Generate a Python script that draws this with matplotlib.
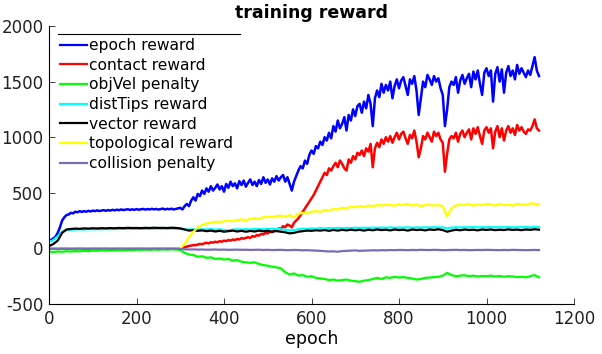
import numpy as np
import matplotlib
matplotlib.use("Agg")
import matplotlib.pyplot as plt
from matplotlib.lines import Line2D

plt.rcParams["axes.unicode_minus"] = False

# ---------------- data ----------------
series_names = ["epoch reward", "contact reward", "objVel penalty", "distTips reward",
                "vector reward", "topological reward", "collision penalty"]

# epoch reward, every 5 epochs from 0 to 1120
epoch_reward = [
    70, 78, 90, 105, 140, 190, 250, 280, 300, 305, 320, 315, 330, 325, 335, 328, 335, 330, 338, 332,
    340, 335, 342, 336, 340, 344, 338, 345, 340, 347, 342, 348, 344, 350, 345, 349, 352, 346, 351, 347,
    353, 348, 352, 355, 349, 354, 350, 356, 351, 355, 349, 354, 358, 350, 356, 352, 357, 350, 355, 360,
    365, 350, 380, 400, 380, 430, 460, 430, 490, 470, 520, 490, 540, 510, 560, 520, 545, 575, 530, 560,
    510, 580, 545, 600, 560, 585, 540, 605, 570, 610, 555, 590, 620, 570, 600, 560, 615, 580, 640, 590,
    620, 575, 630, 600, 650, 610, 640, 660, 600, 640, 580, 520, 600, 650, 700, 740, 720, 790, 760, 840,
    880, 850, 920, 900, 960, 930, 1000, 970, 1040, 990, 1100, 1050, 1150, 1080, 1120, 1180, 1060, 1200, 1150, 1250,
    1190, 1280, 1300, 1220, 1320, 1260, 1380, 1300, 1100, 1350, 1420, 1360, 1480, 1400, 1470, 1420, 1500, 1350, 1460, 1520,
    1440, 1510, 1540, 1460, 1380, 1520, 1480, 1550, 1420, 1200, 1350, 1500, 1450, 1560, 1520, 1470, 1550, 1500, 1530, 1440,
    1380, 1100, 1250, 1450, 1500, 1470, 1540, 1400, 1510, 1560, 1480, 1530, 1570, 1450, 1590, 1520, 1600, 1480, 1380, 1580,
    1620, 1550, 1600, 1320, 1570, 1630, 1500, 1610, 1400, 1580, 1640, 1550, 1600, 1520, 1650, 1570, 1620, 1580, 1540, 1600,
    1560, 1640, 1720, 1600, 1550,
]

# contact reward: 0 up to epoch 300, then every 5 epochs from 300 to 1120
contact_reward_start = [0]
contact_reward = [
    0, 5, 12, 15, 22, 25, 30, 28, 35, 40, 38, 45, 50, 45, 55, 52, 60, 55, 65, 60,
    70, 65, 75, 70, 80, 75, 85, 80, 92, 88, 95, 100, 95, 110, 105, 120, 115, 130, 125, 140,
    135, 150, 145, 165, 160, 180, 175, 200, 190, 215, 205, 190, 230, 250, 270, 300, 330, 360, 390, 420,
    450, 480, 520, 560, 600, 640, 680, 660, 720, 700, 740, 770, 730, 790, 760, 720, 700, 800, 770, 830,
    800, 860, 840, 880, 830, 900, 870, 940, 730, 900, 950, 910, 980, 940, 1000, 960, 1010, 950, 1000, 1040,
    980, 1030, 1050, 990, 940, 1020, 990, 1060, 960, 820, 900, 1010, 980, 1040, 1000, 960, 1050, 1010, 1040, 980,
    950, 690, 850, 980, 1010, 990, 1040, 960, 1030, 1060, 1000, 1040, 1070, 980, 1080, 1030, 1090, 1010, 940, 1060,
    1090, 1040, 1080, 900, 1050, 1100, 1000, 1080, 970, 1060, 1100, 1040, 1080, 1020, 1110, 1060, 1090, 1050, 1030, 1070,
    1060, 1100, 1160, 1080, 1060,
]

# the remaining series, every 10 epochs from 0 to 1120
objvel_penalty = [
    -30, -32, -28, -30, -25, -28, -24, -26, -22, -25, -20, -22, -18, -20, -17, -19, -15, -17, -14, -16,
    -12, -14, -11, -13, -10, -12, -9, -11, -8, -10,
    -15, -40, -55, -60, -75, -70, -85, -80, -95, -90, -100, -95, -110, -105, -120, -125, -130, -125, -140, -150,
    -155, -165, -170, -180, -215, -235, -225, -245, -240, -255, -250, -265, -270, -275, -285, -280, -290, -285, -280, -290,
    -295, -300, -290, -285, -275, -265, -275, -260, -265, -255, -262, -258, -265, -270, -280, -275, -265, -262, -258, -255,
    -245, -220, -240, -250, -245, -242, -250, -245, -252, -248, -250, -245, -252, -248, -255, -250, -252, -258, -255, -260,
    -250, -240, -260,
]
disttips_reward = [
    60, 75, 110, 150, 165, 168, 170, 172, 170, 173, 172, 174, 172, 175, 173, 175, 174, 176, 174, 176,
    175, 177, 175, 177, 176, 178, 176, 178, 177, 176,
    175, 172, 170, 172, 168, 172, 170, 174, 168, 172, 166, 160, 168, 172, 170, 174, 170, 175, 172, 176,
    174, 178, 175, 172, 168, 162, 165, 172, 178, 175, 180, 178, 182, 179, 183, 180, 184, 181, 185, 182,
    186, 183, 186, 184, 187, 185, 188, 186, 189, 186, 188, 187, 190, 186, 189, 187, 190, 188, 191, 188,
    190, 180, 187, 190, 188, 191, 189, 192, 189, 191, 190, 192, 189, 191, 190, 192, 189, 191, 190, 192,
    190, 193, 191,
]
vector_reward = [
    20, 40, 70, 140, 170, 175, 178, 176, 180, 178, 181, 179, 182, 180, 183, 181, 184, 182, 185, 183,
    184, 182, 185, 183, 186, 184, 185, 183, 186, 184,
    180, 170, 160, 165, 158, 162, 155, 160, 152, 158, 150, 155, 160, 152, 158, 150, 157, 152, 160, 154,
    158, 150, 156, 150, 145, 135, 140, 150, 155, 160, 158, 163, 160, 165, 158, 166, 160, 167, 162, 168,
    163, 167, 160, 168, 163, 170, 165, 168, 162, 170, 165, 168, 160, 170, 165, 168, 162, 170, 166, 172,
    165, 150, 160, 168, 163, 170, 165, 168, 162, 170, 166, 170, 164, 168, 165, 171, 166, 169, 164, 170,
    167, 172, 168,
]
topological_reward = [
    0, 0, 0, 0, 0, 0, 0, 0, 0, 0, 0, 0, 0, 0, 0, 0, 0, 0, 0, 0,
    0, 0, 0, 0, 0, 0, 0, 0, 0, 0,
    0, 40, 100, 150, 190, 210, 225, 230, 240, 235, 245, 250, 245, 255, 260, 255, 265, 270, 265, 280,
    285, 280, 290, 295, 285, 300, 280, 310, 320, 315, 330, 335, 330, 345, 340, 355, 350, 365, 360, 375,
    370, 380, 375, 385, 380, 390, 385, 395, 390, 385, 395, 390, 400, 385, 395, 380, 390, 395, 385, 390,
    380, 290, 360, 385, 395, 390, 400, 385, 395, 390, 400, 395, 385, 400, 390, 395, 385, 400, 395, 390,
    405, 400, 395,
]
collision_penalty = [
    -5, -4, -5, -3, -4, -5, -4, -3, -4, -5, -3, -4, -4, -3, -5, -4, -3, -4, -5, -3,
    -4, -3, -4, -5, -3, -4, -3, -4, -3, -4,
    -5, -8, -10, -9, -11, -10, -12, -11, -10, -12, -11, -13, -12, -11, -13, -12, -14, -13, -12, -14,
    -13, -15, -14, -13, -15, -16, -14, -15, -17, -16, -18, -20, -22, -25, -28, -26, -30, -24, -22, -20,
    -18, -22, -20, -19, -17, -18, -16, -17, -15, -16, -14, -15, -16, -14, -15, -13, -14, -15, -13, -14,
    -16, -15, -14, -13, -15, -14, -16, -15, -14, -15, -13, -14, -15, -16, -14, -15, -13, -14, -15, -16,
    -15, -14, -15,
]

x_ticks = [0, 200, 400, 600, 800, 1000, 1200]
y_ticks = [-500, 0, 500, 1000, 1500, 2000]

# ---------------- figure ----------------
fig = plt.figure(figsize=(6.02, 3.54), dpi=100)
ax = fig.add_axes([49 / 602, 1 - 304 / 354, 525 / 602, 278 / 354])

ep5 = np.arange(len(epoch_reward)) * 5
ep_contact = np.concatenate([[0], 300 + np.arange(len(contact_reward)) * 5])
contact_full = contact_reward_start + contact_reward

lw_main = 1.8
lw = 1.6
ax.plot(ep5, epoch_reward, color=(0, 0, 1), lw=lw_main, label=series_names[0])
ax.plot(ep_contact, contact_full, color=(1, 0, 0), lw=lw_main, label=series_names[1])
ax.plot(np.arange(len(objvel_penalty)) * 10, objvel_penalty, color=(0, 1, 0), lw=lw, label=series_names[2])
ax.plot(np.arange(len(disttips_reward)) * 10, disttips_reward, color=(0, 1, 1), lw=lw, label=series_names[3])
ax.plot(np.arange(len(vector_reward)) * 10, vector_reward, color=(0, 0, 0), lw=lw, label=series_names[4])
ax.plot(np.arange(len(topological_reward)) * 10, topological_reward, color=(1, 1, 0), lw=lw, label=series_names[5])
ax.plot(np.arange(len(collision_penalty)) * 10, collision_penalty, color="#7b6cb8", lw=lw, label=series_names[6])

ax.set_xlim(0, 1200)
ax.set_ylim(-500, 2000)
ax.set_xticks(x_ticks)
ax.set_yticks(y_ticks)
ax.tick_params(direction="in", length=4, width=0.6, labelsize=12, pad=4, colors="#222222")
for s in ["top", "right"]:
    ax.spines[s].set_visible(False)
for s in ["left", "bottom"]:
    ax.spines[s].set_linewidth(0.8)

ax.set_title("training reward", fontsize=12.5, fontweight="bold", pad=6)
ax.set_xlabel("epoch", fontsize=12.5, labelpad=2)

for h in ax.get_legend_handles_labels()[0]:
    pass
leg = ax.legend(loc="upper left", bbox_to_anchor=(0.021, 0.957), borderaxespad=0, borderpad=0,
                frameon=False, fontsize=11.2, handlelength=1.75, handletextpad=0.1, labelspacing=0.3)
for line in leg.get_lines():
    line.set_linewidth(1.6)
ax.add_line(Line2D([0.017, 0.364], [0.971, 0.971], transform=ax.transAxes, color="black", lw=0.8))

fig.savefig("out.png", dpi=100)
